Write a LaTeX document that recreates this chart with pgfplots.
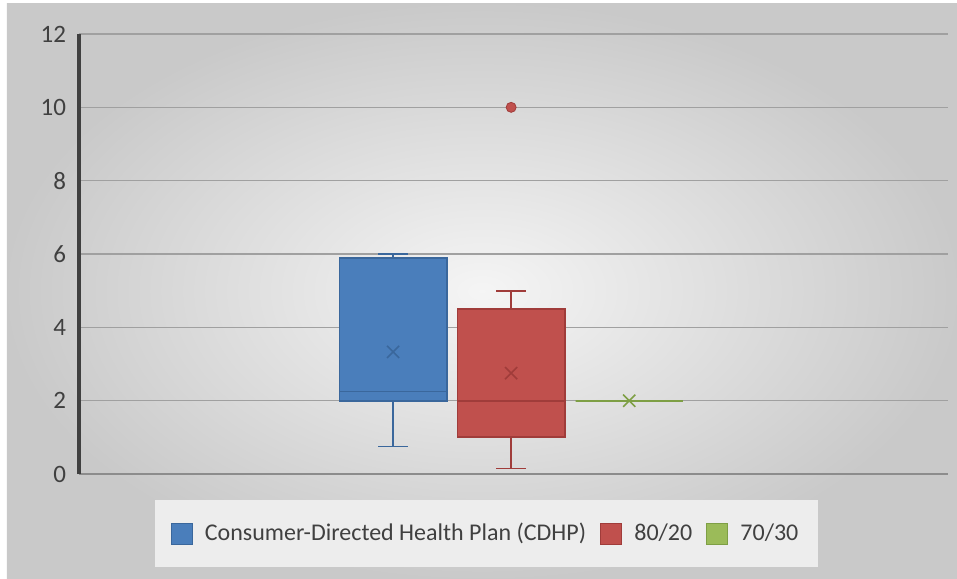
\documentclass[border=0pt]{standalone}
\usepackage{fontspec}
\setmainfont{Carlito}
\usepackage{pgfplots}
\pgfplotsset{compat=1.18}
\usepgfplotslibrary{statistics}
\definecolor{bluef}{HTML}{4A7EBB}
\definecolor{blued}{HTML}{3A679C}
\definecolor{redf}{HTML}{C0504D}
\definecolor{redd}{HTML}{A03C3A}
\definecolor{greenf}{HTML}{9BBB59}
\definecolor{greend}{HTML}{7E9F45}
\definecolor{gridc}{HTML}{A0A0A0}
\definecolor{labc}{HTML}{404040}
\begin{document}
\begin{tikzpicture}
\fill[white] (-39.5pt,-52pt) rectangle (439pt,237pt);
\shade[inner color=black!4, outer color=black!21] (-36pt,-52pt) rectangle (439pt,235pt);
\begin{axis}[
  at={(0,0)}, anchor=south west,
  scale only axis, width=434.5pt, height=220pt,
  xmin=-3.66, xmax=3.70, ymin=0, ymax=12,
  ytick={0,2,...,12}, xtick=\empty,
  major tick length=0pt,
  ymajorgrids, grid style={gridc, line width=0.8pt},
  axis lines*=left,
  x axis line style={draw=black!45, line width=1pt},
  y axis line style={draw=labc, line width=1.6pt},
  tick label style={font=\fontsize{12.5}{14}\selectfont, text=labc},
  yticklabel style={xshift=-3pt},
  /pgf/number format/assume math mode=true,
  boxplot/draw direction=y,
  boxplot/box extend=0.907,
  boxplot/whisker extend=0.25,
  legend style={at={(0.469,-0.059)}, anchor=north, fill=black!7, draw=none,
    font=\fontsize{12}{14}\selectfont, text=labc, legend columns=3,
    inner xsep=8pt, inner ysep=9.5pt,
    /tikz/every odd column/.append style={column sep=4pt},
    /tikz/every even column/.append style={column sep=5pt}},
  legend image code/.code={\draw[#1] (0pt,-5.25pt) rectangle (10.5pt,5.25pt);},
]
\addplot[forget plot, draw=blued, fill=bluef, line width=0.9pt,
  boxplot prepared={draw position=-1, lower whisker=0.75, lower quartile=2,
    median=2.25, upper quartile=5.89, upper whisker=6.0}] coordinates {};
\addplot[forget plot, draw=redd, fill=redf, line width=0.9pt,
  boxplot prepared={draw position=0, lower whisker=0.15, lower quartile=1,
    median=2, upper quartile=4.5, upper whisker=5.0}] coordinates {};
\addplot[forget plot, draw=greend, fill=greenf, line width=0.9pt,
  boxplot prepared={draw position=1, lower whisker=2, lower quartile=2,
    median=2, upper quartile=2, upper whisker=2}] coordinates {};
% means
\addplot[forget plot, only marks, mark=x, mark size=4.3pt, blued, line width=0.8pt] coordinates {(-1,3.33)};
\addplot[forget plot, only marks, mark=x, mark size=4.3pt, redd, line width=0.8pt] coordinates {(0,2.75)};
\addplot[forget plot, only marks, mark=x, mark size=4.3pt, greend, line width=0.8pt] coordinates {(1,2)};
% outlier
\addplot[forget plot, only marks, mark=*, mark size=2.5pt, draw=redd, fill=redf] coordinates {(0,10)};
\addlegendimage{draw=blued, fill=bluef, line width=0.6pt}
\addlegendentry{Consumer-Directed Health Plan (CDHP)}
\addlegendimage{draw=redd, fill=redf, line width=0.6pt}
\addlegendentry{80/20}
\addlegendimage{draw=greend, fill=greenf, line width=0.6pt}
\addlegendentry{70/30}
\end{axis}
\end{tikzpicture}
\end{document}
